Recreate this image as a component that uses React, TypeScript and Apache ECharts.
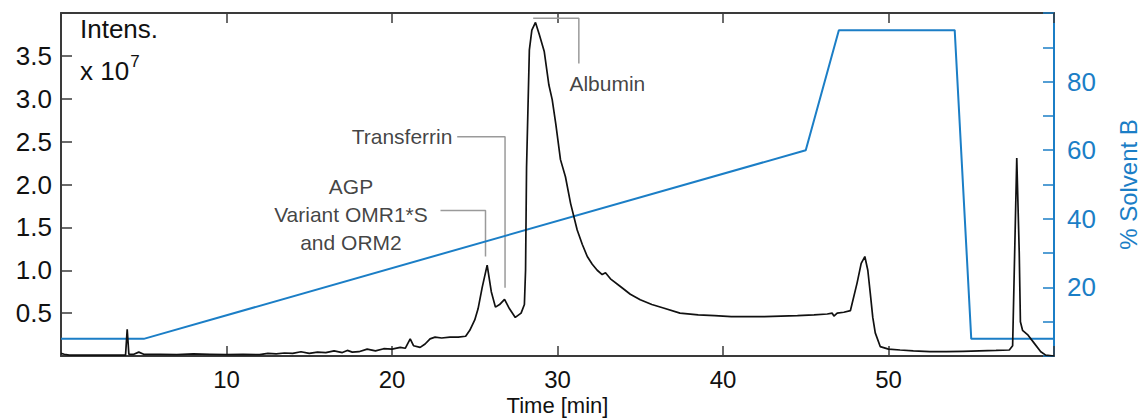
import React, { useEffect, useRef } from "react";
import * as echarts from "echarts";

// Chromatogram (intensity x 10^7)
const timeMin = [
  0.0, 0.2, 0.5, 1.0, 2.0, 3.0, 3.9, 4.0, 4.1, 4.4, 4.7, 5.0, 6.0, 7.0, 8.0, 9.0, 10.0, 11.0, 12.0, 12.5,
  13.0, 13.5, 14.0, 14.5, 15.0, 15.5, 16.0, 16.5, 17.0, 17.3, 17.6, 18.0, 18.5, 19.0, 19.5, 20.0, 20.5, 20.8,
  21.1, 21.3, 21.7, 22.0, 22.3, 22.6, 23.0, 23.5, 24.0, 24.45, 24.7, 25.0, 25.2, 25.45, 25.75, 26.0, 26.25,
  26.5, 26.8, 27.1, 27.45, 27.8, 28.0, 28.07, 28.13, 28.3, 28.45, 28.67, 28.9, 29.2, 29.48, 29.68, 29.9,
  30.18, 30.48, 30.79, 31.19, 31.5, 31.8, 32.1, 32.4, 32.7, 32.9, 33.2, 33.8, 34.4, 35.0, 35.7, 36.4, 37.4,
  38.5, 39.5, 40.5, 41.5, 42.5, 43.5, 44.5, 45.5, 46.3, 46.6, 46.7, 46.9, 47.3, 47.7, 48.1, 48.35, 48.57,
  48.75, 48.9, 49.05, 49.2, 49.5, 50.0, 50.7, 51.5, 52.5, 53.5, 54.5, 55.5, 56.5, 57.3, 57.5, 57.6, 57.75,
  57.9, 57.97, 58.1, 58.4, 58.8, 59.2, 59.5, 60.0,
];
const intensity = [
  0.03, 0.02, 0.01, 0.01, 0.01, 0.01, 0.01, 0.31, 0.02, 0.02, 0.045, 0.02, 0.02, 0.015, 0.025, 0.02, 0.015, 0.02, 0.015, 0.03,
  0.025, 0.035, 0.03, 0.05, 0.03, 0.045, 0.04, 0.06, 0.04, 0.065, 0.045, 0.05, 0.08, 0.06, 0.085, 0.08, 0.1, 0.09,
  0.2, 0.12, 0.1, 0.14, 0.2, 0.22, 0.21, 0.22, 0.22, 0.23, 0.3, 0.42, 0.55, 0.8, 1.06, 0.75, 0.57,
  0.6, 0.66, 0.55, 0.45, 0.5, 0.6, 1.0, 2.2, 3.57, 3.8, 3.89, 3.75, 3.55, 3.16, 2.99, 2.7,
  2.29, 2.09, 1.78, 1.47, 1.3, 1.16, 1.07, 1.0, 0.95, 0.97, 0.9, 0.81, 0.72, 0.655, 0.6, 0.56, 0.5,
  0.48, 0.47, 0.46, 0.46, 0.46, 0.465, 0.47, 0.48, 0.49, 0.5, 0.465, 0.5, 0.51, 0.53, 0.85, 1.08, 1.16,
  1.0, 0.73, 0.45, 0.27, 0.11, 0.08, 0.07, 0.06, 0.05, 0.05, 0.055, 0.06, 0.065, 0.07, 0.12, 1.0, 2.31,
  1.2, 0.4, 0.3, 0.25, 0.15, 0.05, 0.01, 0.0,
];

// Gradient program (% Solvent B)
const solventTime = [0, 5, 45, 47, 54, 55, 60];
const solventB = [5, 5, 60, 95, 95, 5, 5];

// Annotation labels and their leader lines (data coordinates)
const annoNames = ["Albumin", "Transferrin", "AGP\nVariant OMR1*S\nand ORM2"];
const annoPos = [
  [30.72, 3.18],
  [23.65, 2.558],
  [17.52, 1.646],
];
const annoAlign = ["left", "right", "center"];
const albuminLeader = [
  [28.53, 3.94],
  [31.29, 3.94],
  [31.29, 3.41],
];
const transferrinLeader = [
  [23.94, 2.558],
  [26.83, 2.558],
  [26.83, 0.795],
];
const agpLeader = [
  [22.93, 1.696],
  [25.65, 1.696],
  [25.65, 1.16],
];

const FONT = "'Liberation Sans', Arial, Helvetica, sans-serif";
const BLUE = "#1b7ec6";
const AXIS = "#3a3a3a";
const LEADER = "#9a9a9a";

export default function App() {
  const ref = useRef<HTMLDivElement>(null);

  useEffect(() => {
    if (!ref.current) return;
    const chart = echarts.init(ref.current, undefined, { renderer: "svg" });

    const trace = timeMin.map((t, i) => [t, intensity[i]]);
    const gradient = solventTime.map((t, i) => [t, solventB[i]]);

    const leaderSeries = [albuminLeader, transferrinLeader, agpLeader].map((pts) => ({
      type: "line",
      xAxisIndex: 0,
      yAxisIndex: 0,
      data: pts,
      symbol: "none",
      silent: true,
      lineStyle: { color: LEADER, width: 1.5 },
      z: 3,
    }));

    chart.setOption({
      animation: false,
      textStyle: { fontFamily: FONT },
      grid: {
        left: 61,
        right: 88,
        top: 13,
        bottom: 62,
        containLabel: false,
        outerBoundsMode: "none",
      },
      xAxis: [
        {
          type: "value",
          position: "bottom",
          min: 0,
          max: 60,
          interval: 10,
          name: "Time [min]",
          nameLocation: "middle",
          nameGap: 38,
          nameMoveOverlap: false,
          nameTextStyle: { fontSize: 22, lineHeight: 22, color: "#111", fontFamily: FONT },
          axisLine: { show: true, onZero: false, lineStyle: { color: AXIS, width: 2 } },
          axisTick: { show: true, inside: true, length: 10, lineStyle: { color: AXIS, width: 1.5 } },
          axisLabel: {
            fontSize: 24,
            lineHeight: 20,
            color: "#111",
            margin: 13,
            fontFamily: FONT,
            formatter: (v: number) => (v > 0 && v < 60 ? String(v) : ""),
          },
          splitLine: { show: false },
        },
        {
          type: "value",
          position: "top",
          min: 0,
          max: 60,
          interval: 10,
          axisLine: { show: true, onZero: false, lineStyle: { color: AXIS, width: 2 } },
          axisTick: { show: true, inside: true, length: 10, lineStyle: { color: AXIS, width: 1.5 } },
          axisLabel: { show: false },
          splitLine: { show: false },
        },
      ],
      yAxis: [
        {
          type: "value",
          position: "left",
          min: 0,
          max: 4,
          interval: 0.5,
          axisLine: { show: true, onZero: false, lineStyle: { color: AXIS, width: 2 } },
          axisTick: { show: true, inside: true, length: 11, lineStyle: { color: AXIS, width: 1.5 } },
          axisLabel: {
            fontSize: 26,
            color: "#111",
            margin: 9,
            fontFamily: FONT,
            formatter: (v: number) => (v > 0 && v < 4 ? v.toFixed(1) : ""),
          },
          splitLine: { show: false },
        },
        {
          type: "value",
          position: "right",
          min: 0,
          max: 100,
          interval: 10,
          name: "% Solvent B",
          nameLocation: "middle",
          nameRotate: 90,
          nameGap: 62,
          nameMoveOverlap: false,
          nameTextStyle: { fontSize: 24, color: BLUE, fontFamily: FONT },
          axisLine: { show: true, onZero: false, lineStyle: { color: BLUE, width: 2 } },
          axisTick: { show: true, inside: true, length: 11, lineStyle: { color: BLUE, width: 1.5 } },
          axisLabel: {
            fontSize: 26,
            color: BLUE,
            margin: 13,
            fontFamily: FONT,
            formatter: (v: number) => (v > 0 && v < 100 && v % 20 === 0 ? String(v) : ""),
          },
          splitLine: { show: false },
        },
      ],
      graphic: [
        {
          type: "text",
          left: 80,
          top: 16,
          style: { text: "Intens.", fontSize: 26, fill: "#111", fontFamily: FONT },
        },
        {
          type: "text",
          left: 80,
          top: 53,
          style: {
            text: "{a|x 10}{s|7}",
            rich: {
              a: { fontSize: 26, fill: "#111", fontFamily: FONT, verticalAlign: "bottom" },
              s: { fontSize: 17, fill: "#111", fontFamily: FONT, verticalAlign: "top", padding: [0, 0, 14, 1] },
            },
          },
        },
      ],
      series: [
        {
          type: "line",
          name: "Solvent B",
          xAxisIndex: 0,
          yAxisIndex: 1,
          data: gradient,
          symbol: "none",
          silent: true,
          lineStyle: { color: BLUE, width: 2 },
          z: 4,
        },
        {
          type: "line",
          name: "Intensity",
          xAxisIndex: 0,
          yAxisIndex: 0,
          data: trace,
          symbol: "none",
          silent: true,
          lineStyle: { color: "#111", width: 1.7 },
          z: 5,
        },
        ...leaderSeries,
        {
          type: "scatter",
          xAxisIndex: 0,
          yAxisIndex: 0,
          symbolSize: 0,
          silent: true,
          data: annoNames.map((n, i) => ({
            name: n,
            value: annoPos[i],
            label: {
              show: true,
              position: "inside",
              formatter: "{b}",
              align: annoAlign[i],
              verticalAlign: "middle",
              fontSize: 21,
              lineHeight: 28,
              color: "#111",
              fontFamily: FONT,
            },
          })),
          z: 6,
        },
      ],
    });

    return () => chart.dispose();
  }, []);

  return (
    <div
      ref={ref}
      style={{ position: "fixed", left: 0, top: 0, width: 1142, height: 418, background: "#fff" }}
    />
  );
}
